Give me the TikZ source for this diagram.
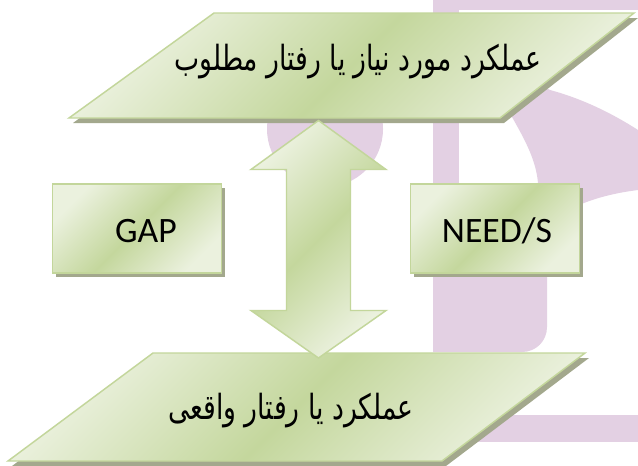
\documentclass[tikz,border=0pt]{standalone}
\usepackage{fontspec}
\setmainfont{Carlito}
\newfontfamily\fafont[Script=Arabic]{DejaVu Sans}
\TeXXeTstate=1
\usetikzlibrary{calc,shadows}
\definecolor{wm}{HTML}{E3D0E3}
\definecolor{gl}{HTML}{EBF1DE}
\definecolor{gm}{HTML}{C4D79D}
\definecolor{gb}{HTML}{C3D69B}
\definecolor{sh}{HTML}{A3A88D}
\newcommand{\paraTop}{(214,13) -- (634,13) -- (500,118) -- (69,118) -- cycle}
\newcommand{\paraBot}{(153,353) -- (585,353) -- (442,461) -- (8,461) -- cycle}
\begin{document}
\begin{tikzpicture}[x=0.75pt,y=-0.75pt,
  greenfill/.style={draw=gb, line width=1.1pt, line join=miter, top color=gl, bottom color=gl, middle color=gm, shading angle=45},
  shadowfill/.style={fill=sh, draw=none},
  boxstyle/.style={greenfill, rectangle, minimum width=126.75pt, minimum height=66.75pt, inner sep=0pt,
     drop shadow={shadow xshift=2.5pt, shadow yshift=-3pt, fill=sh, opacity=1}},
  labelen/.style={font=\fontsize{26.8}{30}\selectfont, text=black, inner sep=0pt},
  labelfa/.style={font=\fafont\fontsize{20}{24}\selectfont, text=black, inner sep=0pt}]
\useasboundingbox (0,0) rectangle (638,465);
\fill[white] (0,0) rectangle (638,465);
% watermark
\fill[wm] (433,0) rectangle (638,10);
\fill[wm] (433,0) rectangle (459,352);
\fill[wm] (433,230) -- (547,230) -- (547,327) .. controls (547,341) and (536,352) .. (522,352) -- (433,352) -- cycle;
\fill[wm] (495,60) -- (512,117) .. controls (525,140) and (536,160) .. (538,183) -- (540,235)
   .. controls (555,212) and (590,196) .. (638,190) -- (638,130) .. controls (610,112) and (580,98) .. (550,90) -- cycle;
\fill[wm] (440,415) rectangle (638,442);
\fill[wm] (325,129) circle[radius=58];
% top parallelogram
\fill[shadowfill, shift={(4,5)}] \paraTop;
\path[greenfill] \paraTop;
\node[labelfa] (ttop) at (358,62) {\scalebox{1}[1.3]{\beginR عملکرد مورد نیاز یا رفتار مطلوب\endR}};
% side boxes
\node[boxstyle] (gap) at (137,228.5) {};
\node[labelen] (gaptext) at (146,231) {GAP};
\node[boxstyle] (need) at (495,228.5) {};
\node[labelen] (needtext) at (497,231) {NEED/S};
% bottom parallelogram
\fill[shadowfill, shift={(4,5)}] \paraBot;
\path[greenfill] \paraBot;
\node[labelfa] (tbot) at (291,411) {\scalebox{1}[1.3]{\beginR عملکرد یا رفتار واقعی\endR}};
% double arrow
\coordinate (atop) at (318.5,120.5);
\coordinate (abot) at (318.5,358);
\newcommand{\arrowPath}{(atop) -- ($(atop)+(67.5,49)$) -- ($(atop)+(32,49)$) -- ($(abot)+(32,-47.5)$) -- ($(abot)+(67.5,-47.5)$) -- (abot) -- ($(abot)+(-67.5,-47.5)$) -- ($(abot)+(-32,-47.5)$) -- ($(atop)+(-32,49)$) -- ($(atop)+(-67.5,49)$) -- cycle}
\fill[shadowfill, shift={(4,5)}] \arrowPath;
\path[greenfill] \arrowPath;
\end{tikzpicture}
\end{document}
